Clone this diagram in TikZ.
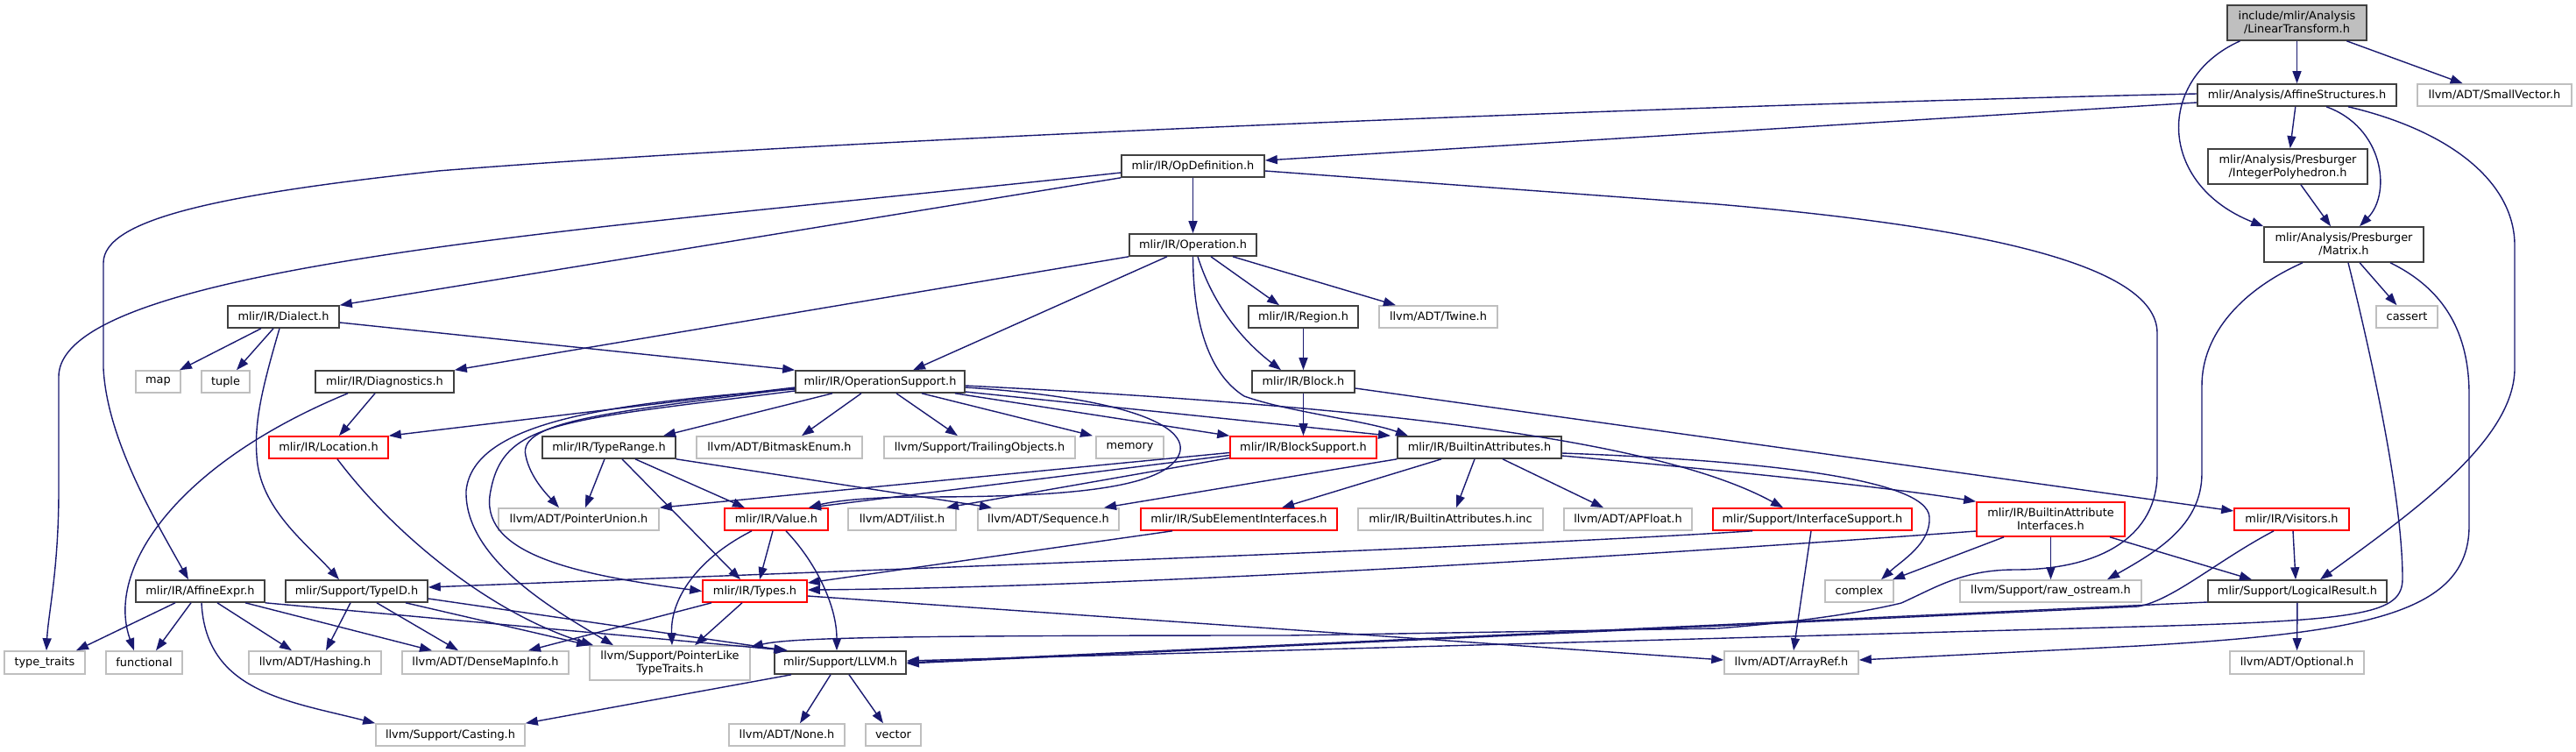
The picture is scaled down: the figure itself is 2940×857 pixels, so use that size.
\documentclass[tikz,border=0pt]{standalone}
\usepackage{fontspec}
\setmainfont{DejaVu Sans}
\usetikzlibrary{arrows.meta}
\definecolor{edgec}{HTML}{191970}
\definecolor{grayb}{HTML}{BFBFBF}
\definecolor{darkb}{HTML}{404040}
\definecolor{redb}{HTML}{FF0000}
\begin{document}
\begin{tikzpicture}[x=1pt,y=-1pt,
 box/.style={draw=darkb, line width=1.6pt, fill=white, minimum height=25pt, inner sep=0pt, font=\fontsize{12.9}{15}\selectfont, align=center},
 extbox/.style={box, draw=grayb},
 redbox/.style={box, draw=redb},
 rootbox/.style={box, fill=grayb},
 edge/.style={draw=edgec, line width=1.4pt, -{Triangle[length=14pt,width=10pt]}},
]
\useasboundingbox (0,0) rectangle (2940,857);
% nodes
\node[rootbox, minimum width=159pt, minimum height=40pt] (lt) at (2621.5,26) {include/mlir/Analysis\\/LinearTransform.h};
\node[box, minimum width=227pt] (as) at (2621.5,108.5) {mlir/Analysis/AffineStructures.h};
\node[extbox, minimum width=176pt] (sv) at (2847,108.5) {llvm/ADT/SmallVector.h};
\node[box, minimum width=182pt, minimum height=40pt] (ip) at (2611,190) {mlir/Analysis/Presburger\\/IntegerPolyhedron.h};
\node[box, minimum width=182pt, minimum height=40pt] (mx) at (2675,279) {mlir/Analysis/Presburger\\/Matrix.h};
\node[extbox, minimum width=70pt] (cassert) at (2747,361.5) {cassert};
\node[box, minimum width=163pt] (od) at (1361.5,189.5) {mlir/IR/OpDefinition.h};
\node[box, minimum width=145pt] (op) at (1361.5,279.5) {mlir/IR/Operation.h};
\node[box, minimum width=125pt] (region) at (1487.5,361.5) {mlir/IR/Region.h};
\node[extbox, minimum width=135pt] (twine) at (1641.5,361.5) {llvm/ADT/Twine.h};
\node[box, minimum width=117pt] (block) at (1487.5,435.5) {mlir/IR/Block.h};
\node[box, minimum width=193pt] (opsup) at (1004.5,435.5) {mlir/IR/OperationSupport.h};
\node[box, minimum width=127pt] (dialect) at (323.5,361.5) {mlir/IR/Dialect.h};
\node[extbox, minimum width=51pt] (map) at (180.5,435.5) {map};
\node[extbox, minimum width=55pt] (tuple) at (257.5,435.5) {tuple};
\node[box, minimum width=158pt] (diag) at (439,435.5) {mlir/IR/Diagnostics.h};
\node[redbox, minimum width=136pt] (loc) at (375,510.5) {mlir/IR/Location.h};
\node[box, minimum width=152pt] (trange) at (695,510.5) {mlir/IR/TypeRange.h};
\node[extbox, minimum width=189pt] (bitmask) at (889.5,510.5) {llvm/ADT/BitmaskEnum.h};
\node[extbox, minimum width=218pt] (trailing) at (1118,510.5) {llvm/Support/TrailingObjects.h};
\node[extbox, minimum width=77pt] (memory) at (1289.5,510.5) {memory};
\node[redbox, minimum width=167pt] (bsup) at (1487.5,510.5) {mlir/IR/BlockSupport.h};
\node[box, minimum width=187pt] (battr) at (1688.5,510.5) {mlir/IR/BuiltinAttributes.h};
\node[extbox, minimum width=183pt] (punion) at (660.5,592.5) {llvm/ADT/PointerUnion.h};
\node[redbox, minimum width=118pt] (value) at (886,592.5) {mlir/IR/Value.h};
\node[extbox, minimum width=123pt] (ilist) at (1029.5,592.5) {llvm/ADT/ilist.h};
\node[extbox, minimum width=161pt] (seq) at (1196.5,592.5) {llvm/ADT/Sequence.h};
\node[redbox, minimum width=224pt] (subel) at (1414,592.5) {mlir/IR/SubElementInterfaces.h};
\node[extbox, minimum width=211pt] (binc) at (1655.5,592.5) {mlir/IR/BuiltinAttributes.h.inc};
\node[extbox, minimum width=146pt] (apfloat) at (1858,592.5) {llvm/ADT/APFloat.h};
\node[redbox, minimum width=227pt] (isup) at (2068.5,592.5) {mlir/Support/InterfaceSupport.h};
\node[redbox, minimum width=169pt, minimum height=39pt] (bai) at (2340.5,592.5) {mlir/IR/BuiltinAttribute\\Interfaces.h};
\node[redbox, minimum width=131pt] (visitors) at (2615.5,592.5) {mlir/IR/Visitors.h};
\node[box, minimum width=147pt] (aexpr) at (228.5,674.5) {mlir/IR/AffineExpr.h};
\node[box, minimum width=162pt] (typeid) at (407,674.5) {mlir/Support/TypeID.h};
\node[redbox, minimum width=119pt] (types) at (861.5,674.5) {mlir/IR/Types.h};
\node[extbox, minimum width=78pt] (complex) at (2122,674.5) {complex};
\node[extbox, minimum width=207pt] (rawos) at (2340.5,674.5) {llvm/Support/raw\_ostream.h};
\node[box, minimum width=204pt] (lr) at (2622,674.5) {mlir/Support/LogicalResult.h};
\node[extbox, minimum width=92pt, minimum height=26pt] (ttraits) at (51,756) {type\_traits};
\node[extbox, minimum width=87pt, minimum height=26pt] (functional) at (164.5,756) {functional};
\node[extbox, minimum width=151pt, minimum height=26pt] (hashing) at (359.5,756) {llvm/ADT/Hashing.h};
\node[extbox, minimum width=190pt, minimum height=26pt] (dmi) at (554,756) {llvm/ADT/DenseMapInfo.h};
\node[extbox, minimum width=183pt, minimum height=39pt] (pltt) at (764.5,756.5) {llvm/Support/PointerLike\\TypeTraits.h};
\node[box, minimum width=150pt, minimum height=26pt] (llvm) at (959,756) {mlir/Support/LLVM.h};
\node[extbox, minimum width=153pt, minimum height=26pt] (arrayref) at (2044.5,756) {llvm/ADT/ArrayRef.h};
\node[extbox, minimum width=153pt, minimum height=26pt] (optional) at (2621.5,756) {llvm/ADT/Optional.h};
\node[extbox, minimum width=170pt] (casting) at (514,838.5) {llvm/Support/Casting.h};
\node[extbox, minimum width=132pt] (none) at (898,838.5) {llvm/ADT/None.h};
\node[extbox, minimum width=63pt] (vector) at (1019.5,838.5) {vector};
% edges: LinearTransform
\draw[edge] (lt) -- (as);
\draw[edge] (lt) -- (sv);
\draw[edge] ([xshift=-65pt]lt.south) .. controls (2460,90) and (2462,210) .. (mx.north west);
% AffineStructures
\draw[edge] (as) -- (ip);
\draw[edge] ([xshift=33.5pt]as.south) .. controls (2720,145) and (2730,220) .. ([xshift=18pt]mx.north);
\draw[edge] ([xshift=58.5pt]as.south) .. controls (2800,150) and (2870,210) .. (2870,280) -- (2870,420) .. controls (2870,500) and (2760,580) .. ([xshift=26pt]lr.north);
\draw[edge] ([yshift=-8.5pt]as.west) -- ([yshift=6.5pt]od.east);
\draw[edge] ([yshift=1.5pt]as.west) .. controls (2000,118) and (1000,155) .. (500,195) .. controls (250,222) and (118,250) .. (118,300) -- (118,420) .. controls (122,500) and (175,590) .. ([xshift=-13.5pt]aexpr.north);
\draw[edge] (ip) -- (mx);
% Matrix
\draw[edge] (mx) -- (cassert);
\draw[edge] ([xshift=-47pt]mx.south) .. controls (2560,330) and (2513,380) .. (2513,440) -- (2513,540) .. controls (2513,600) and (2460,630) .. ([xshift=64.5pt]rawos.north);
\draw[edge] ([xshift=5pt]mx.south) .. controls (2700,380) and (2742,560) .. (2742,660) .. controls (2742,700) and (2700,708) .. (2440,715) -- ([yshift=2pt]llvm.east);
\draw[edge] ([xshift=53pt]mx.south) .. controls (2790,330) and (2818,380) .. (2818,450) -- (2818,600) .. controls (2818,700) and (2700,722) .. (2440,737) -- ([yshift=3pt]arrayref.east);
% OpDefinition
\draw[edge] (od.south west) -- (dialect.north east);
\draw[edge] (od) -- (op);
\draw[edge] ([yshift=-5.5pt]od.east) -- (1960,233) .. controls (2250,258) and (2462,300) .. (2462,380) -- (2462,540) .. controls (2462,610) and (2400,650) .. (2300,650) .. controls (2240,650) and (2210,670) .. (2170,688) .. controls (2100,705) and (2000,714) .. (1960,717) -- (1470,725) .. controls (1000,725) and (900,728) .. ([yshift=-2pt]pltt.north east);
\draw[edge] ([yshift=-7.5pt]od.west) .. controls (700,260) and (67,300) .. (67,430) -- (67,560) .. controls (67,650) and (55,700) .. ([xshift=2pt]ttraits.north);
% Operation
\draw[edge] (op.south west) -- (diag.north east);
\draw[edge] ([xshift=-29.5pt]op.south) -- ([xshift=37.5pt]opsup.north);
\draw[edge] ([xshift=20.5pt]op.south) -- ([xshift=-27.5pt]region.north);
\draw[edge] ([xshift=45.5pt]op.south) -- ([xshift=-48.5pt]twine.north);
\draw[edge] ([xshift=5.5pt]op.south) .. controls (1385,350) and (1420,390) .. ([xshift=-25.5pt]block.north);
\draw[edge] (op.south) .. controls (1362,380) and (1385,430) .. (1420,452) .. controls (1470,470) and (1560,480) .. ([xshift=-81.5pt]battr.north);
\draw[edge] (region) -- (block);
\draw[edge] (block) -- (bsup);
\draw[edge] ([yshift=-7.5pt]block.east) -- ([yshift=9.5pt]visitors.west);
% Dialect
\draw[edge] ([xshift=-25.5pt]dialect.south) -- ([xshift=24.5pt]map.north);
\draw[edge] ([xshift=-11.5pt]dialect.south) -- ([xshift=12.5pt]tuple.north);
\draw[edge] ([xshift=-4.5pt]dialect.south) .. controls (300,440) and (290,480) .. (293,520) .. controls (296,580) and (350,620) .. ([xshift=-20pt]typeid.north);
\draw[edge] ([yshift=-6.5pt]dialect.east) -- (opsup.north west);
% Diagnostics, Location
\draw[edge] ([xshift=-11pt]diag.south) -- ([xshift=12pt]loc.north);
\draw[edge] ([xshift=-42pt]diag.south) .. controls (200,530) and (120,650) .. ([xshift=-11.5pt]functional.north);
\draw[edge] ([xshift=10pt]loc.south) .. controls (450,610) and (560,700) .. ([xshift=5pt]pltt.north west);
% OperationSupport
\draw[edge] ([yshift=-6.5pt]opsup.west) -- (loc.north east);
\draw[edge] ([xshift=-54.5pt]opsup.south) -- ([xshift=62pt]trange.north);
\draw[edge] ([yshift=-7.5pt]opsup.west) .. controls (700,470) and (590,480) .. (600,520) .. controls (605,545) and (625,565) .. ([xshift=-22.5pt]punion.north);
\draw[edge] ([yshift=-8.5pt]opsup.west) .. controls (700,460) and (540,480) .. (532,560) .. controls (530,640) and (640,700) .. ([xshift=-64.5pt]pltt.north);
\draw[edge] ([yshift=-10.5pt]opsup.west) .. controls (640,480) and (575,480) .. (560,560) .. controls (545,630) and (650,655) .. (types.west);
\draw[edge] ([yshift=-6.5pt]opsup.east) .. controls (1300,455) and (1360,490) .. (1345,520) .. controls (1325,560) and (1200,567) .. (1050,567) .. controls (990,567) and (950,572) .. ([xshift=37pt]value.north);
\draw[edge] ([xshift=-21.5pt]opsup.south) -- ([xshift=25.5pt]bitmask.north);
\draw[edge] ([xshift=18.5pt]opsup.south) -- ([xshift=-25pt]trailing.north);
\draw[edge] ([xshift=47.5pt]opsup.south) -- ([xshift=-42.5pt]memory.north);
\draw[edge] ([xshift=85.5pt]opsup.south) -- (bsup.north west);
\draw[edge] ([yshift=-11.5pt]opsup.east) -- ([xshift=-101.5pt]battr.north);
\draw[edge] ([yshift=-4.5pt]opsup.east) .. controls (1600,465) and (1900,505) .. ([xshift=-33.5pt]isup.north);
% TypeRange
\draw[edge] ([xshift=-5pt]trange.south) -- ([xshift=7.5pt]punion.north);
\draw[edge] ([xshift=15pt]trange.south) -- ([xshift=-16.5pt]types.north);
\draw[edge] ([xshift=30pt]trange.south) -- ([xshift=-36pt]value.north);
\draw[edge] (trange.south east) -- ([xshift=-64.5pt]seq.north);
% BlockSupport
\draw[edge] ([yshift=-6pt]bsup.west) -- (punion.north east);
\draw[edge] ([yshift=-9pt]bsup.west) -- ([xshift=37pt]value.north);
\draw[edge] ([yshift=-12pt]bsup.west) -- ([xshift=50.5pt]ilist.north);
% BuiltinAttributes
\draw[edge] (battr.south west) -- ([xshift=63.5pt]seq.north);
\draw[edge] ([xshift=-43.5pt]battr.south) -- ([xshift=49pt]subel.north);
\draw[edge] ([xshift=-5.5pt]battr.south) -- ([xshift=6.5pt]binc.north);
\draw[edge] ([xshift=26.5pt]battr.south) -- ([xshift=-28pt]apfloat.north);
\draw[edge] ([yshift=-6.5pt]battr.east) .. controls (2000,525) and (2200,545) .. (2202,590) .. controls (2204,620) and (2170,640) .. ([xshift=25pt]complex.north);
\draw[edge] ([yshift=-9.5pt]battr.east) .. controls (1950,535) and (2150,555) .. (bai.north west);
% Value, SubElementInterfaces, InterfaceSupport
\draw[edge] ([xshift=-4pt]value.south) -- ([xshift=5.5pt]types.north);
\draw[edge] ([xshift=-28pt]value.south) .. controls (800,635) and (765,680) .. ([xshift=2.5pt]pltt.north);
\draw[edge] ([xshift=11pt]value.south) .. controls (930,640) and (955,690) .. ([xshift=-4pt]llvm.north);
\draw[edge] ([xshift=-76pt]subel.south) -- ([yshift=9.5pt]types.east);
\draw[edge] ([xshift=-68.5pt]isup.south) .. controls (1700,625) and (1000,650) .. ([yshift=4.5pt]typeid.east);
\draw[edge] ([xshift=-1.5pt]isup.south) -- ([xshift=2.5pt]arrayref.north);
% BuiltinAttributeInterfaces
\draw[edge] ([xshift=-53.5pt]bai.south) -- ([xshift=38pt]complex.north);
\draw[edge] (bai) -- (rawos);
\draw[edge] ([xshift=67.5pt]bai.south) -- ([xshift=-52pt]lr.north);
\draw[edge] ([yshift=-13.5pt]bai.west) .. controls (1900,632) and (1300,670) .. ([yshift=1.5pt]types.east);
% Visitors, LogicalResult
\draw[edge] ([xshift=1.5pt]visitors.south) -- ([xshift=-2pt]lr.north);
\draw[edge] ([xshift=-20.5pt]visitors.south) .. controls (2530,640) and (2480,685) .. (2440,692) -- ([yshift=-1pt]llvm.east);
\draw[edge] ([yshift=-12.5pt]lr.west) -- (llvm.east);
\draw[edge] (lr) -- (optional);
% AffineExpr
\draw[edge] ([xshift=-28.5pt]aexpr.south) -- ([xshift=36pt]ttraits.north);
\draw[edge] ([xshift=-10.5pt]aexpr.south) -- ([xshift=13.5pt]functional.north);
\draw[edge] ([xshift=19.5pt]aexpr.south) -- ([xshift=-26.5pt]hashing.north);
\draw[edge] ([xshift=51.5pt]aexpr.south) -- ([xshift=-61pt]dmi.north);
\draw[edge] ([xshift=1.5pt]aexpr.south) .. controls (235,790) and (330,800) .. (casting.north west);
\draw[edge] (aexpr.south east) -- ([xshift=16pt]llvm.north west);
% TypeID
\draw[edge] ([xshift=-7pt]typeid.south) -- ([xshift=12.5pt]hashing.north);
\draw[edge] ([xshift=23pt]typeid.south) -- ([xshift=-31pt]dmi.north);
\draw[edge] ([xshift=56pt]typeid.south) -- (pltt.north west);
\draw[edge] ([yshift=-8.5pt]typeid.east) -- ([xshift=14pt]llvm.north west);
% Types
\draw[edge] ([xshift=-49.5pt]types.south) -- ([xshift=49pt]dmi.north);
\draw[edge] ([xshift=-14.5pt]types.south) -- ([xshift=28.5pt]pltt.north);
\draw[edge] ([yshift=-5.5pt]types.east) -- ([yshift=3pt]arrayref.west);
% LLVM
\draw[edge] ([xshift=-56pt]llvm.south) -- (casting.north east);
\draw[edge] ([xshift=-11pt]llvm.south) -- ([xshift=15pt]none.north);
\draw[edge] ([xshift=10pt]llvm.south) -- ([xshift=-11.5pt]vector.north);
\end{tikzpicture}
\end{document}
